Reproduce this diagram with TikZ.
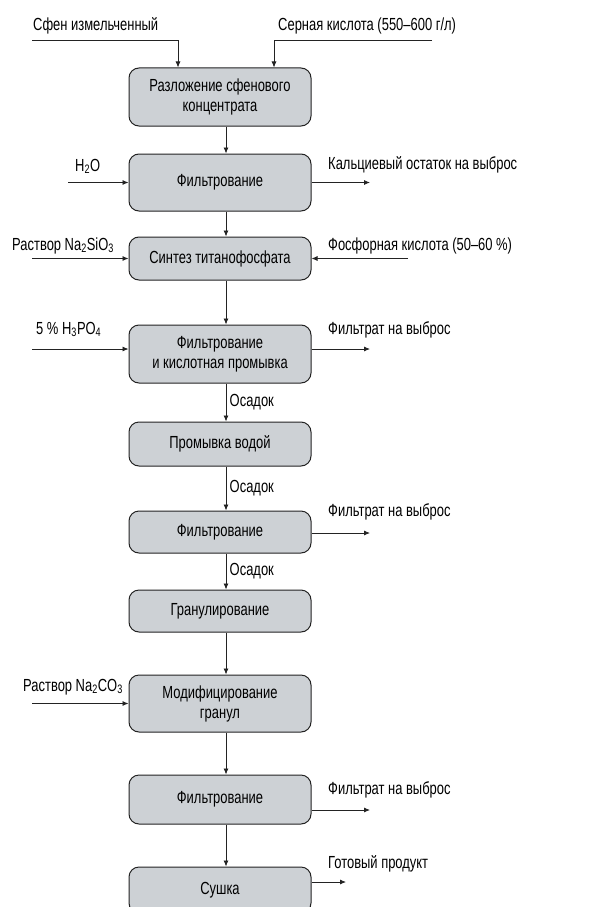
\documentclass[tikz,border=0pt]{standalone}
\usepackage{fontspec}
\setmainfont[FakeStretch=0.74]{Liberation Sans}
\usepackage{tikz}
\usetikzlibrary{arrows.meta,positioning,calc}
\usepackage{xcolor}
\definecolor{stagegray}{RGB}{205,209,213}
\definecolor{edgegray}{RGB}{35,35,35}
\tikzset{
    stage/.style={rectangle,draw=edgegray,line width=1pt,fill=stagegray,rounded corners=10pt,minimum width=182pt,align=center,inner sep=2pt},
    flow/.style={-{Latex[length=6pt,width=5pt]},line width=0.8pt,draw=edgegray},
    feed/.style={inner sep=0pt,anchor=base west},
}

\begin{document}
\begin{tikzpicture}[x=1pt,y=-1pt,font=\fontsize{17.5}{20}\selectfont]
        \clip (0,0) rectangle (613,907);

        % Process stages
        \node[stage,minimum height=58pt] (razl) at (220,97) {Разложение сфенового\\концентрата};
        \node[stage,minimum height=57pt] (filt1) at (220,182.5) {Фильтрование};
        \node[stage,minimum height=43pt] (sintez) at (220,258.5) {Синтез титанофосфата};
        \node[stage,minimum height=58pt] (filt2) at (220,354) {Фильтрование\\и кислотная промывка};
        \node[stage,minimum height=44pt] (promyv) at (220,444) {Промывка водой};
        \node[stage,minimum height=42pt] (filt3) at (220,532) {Фильтрование};
        \node[stage,minimum height=42pt] (granul) at (220,611) {Гранулирование};
        \node[stage,minimum height=57pt] (modif) at (220,703.5) {Модифицирование\\гранул};
        \node[stage,minimum height=49pt] (filt4) at (220,799.5) {Фильтрование};
        \node[stage,minimum height=46pt] (sushka) at (220,890) {Сушка};

        % Main line
        \draw[flow] ([xshift=6pt]razl.south) -- ([xshift=6pt]filt1.north);
        \draw[flow] ([xshift=6pt]filt1.south) -- ([xshift=6pt]sintez.north);
        \draw[flow] ([xshift=6pt]sintez.south) -- ([xshift=6pt]filt2.north);
        \draw[flow] ([xshift=6pt]filt2.south) -- node[right] (osad1) {Осадок} ([xshift=6pt]promyv.north);
        \draw[flow] ([xshift=6pt]promyv.south) -- node[right] (osad2) {Осадок} ([xshift=6pt]filt3.north);
        \draw[flow] ([xshift=6pt]filt3.south) -- node[right] (osad3) {Осадок} ([xshift=6pt]granul.north);
        \draw[flow] ([xshift=6pt]granul.south) -- ([xshift=6pt]modif.north);
        \draw[flow] ([xshift=6pt]modif.south) -- ([xshift=6pt]filt4.north);
        \draw[flow] ([xshift=6pt]filt4.south) -- ([xshift=6pt]sushka.north);

        % Feeds on top
        \coordinate (sfenin) at (32,40);
        \coordinate (acidin) at (432,40);
        \draw[flow] (sfenin) -| ([xshift=-42pt]razl.north);
        \draw[flow] (acidin) -| ([xshift=54pt]razl.north);
        \node[feed] (sfenlbl) at (33,31) {Сфен измельченный};
        \node[feed] (acidlbl) at (278,31) {Серная кислота (550--600 г/л)};

        % Side feeds
        \coordinate (h2oin) at (68,182.5);
        \draw[flow] (h2oin) -- (filt1.west);
        \node[feed] (h2olbl) at (75,171) {H\textsubscript{2}O};
        \coordinate (silin) at (32,258.5);
        \draw[flow] (silin) -- (sintez.west);
        \node[feed] (sillbl) at (12,250) {Раствор Na\textsubscript{2}SiO\textsubscript{3}};
        \coordinate (phosin) at (408,258.5);
        \draw[flow] (phosin) -- (sintez.east);
        \node[feed] (phoslbl) at (328,250) {Фосфорная кислота (50--60~\%)};
        \coordinate (h3po4in) at (32,349);
        \draw[flow] (h3po4in) -- (h3po4in -| filt2.west);
        \node[feed] (h3po4lbl) at (36,334) {5~\% H\textsubscript{3}PO\textsubscript{4}};
        \coordinate (carbin) at (32,703.5);
        \draw[flow] (carbin) -- (modif.west);
        \node[feed] (carblbl) at (23,691) {Раствор Na\textsubscript{2}CO\textsubscript{3}};

        % Outputs
        \coordinate (caout) at (370,182.5);
        \draw[flow] (filt1.east) -- (caout);
        \node[feed] (calbl) at (328,169) {Кальциевый остаток на выброс};
        \coordinate (filt2out) at (370,349);
        \draw[flow] (filt2out -| filt2.east) -- (filt2out);
        \node[feed] (filt2lbl) at (328,334) {Фильтрат на выброс};
        \coordinate (filt3out) at (370,533);
        \draw[flow] (filt3out -| filt3.east) -- (filt3out);
        \node[feed] (filt3lbl) at (328,516) {Фильтрат на выброс};
        \coordinate (filt4out) at (370,810);
        \draw[flow] (filt4out -| filt4.east) -- (filt4out);
        \node[feed] (filt4lbl) at (328,794) {Фильтрат на выброс};
        \coordinate (prodout) at (346,882);
        \draw[flow] (prodout -| sushka.east) -- (prodout);
        \node[feed] (prodlbl) at (328,868) {Готовый продукт};
    \end{tikzpicture}
\end{document}
